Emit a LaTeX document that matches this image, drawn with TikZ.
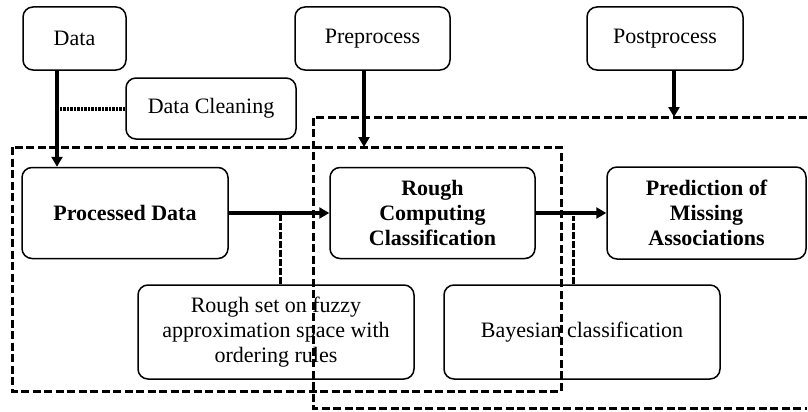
\documentclass[tikz,border=0pt]{standalone}
\usepackage{fontspec}
\setmainfont{Liberation Serif}
\usetikzlibrary{arrows.meta,positioning}

\tikzset{
  box/.style = {draw, line width=1.5pt, rounded corners=10pt, inner sep=0pt,
                align=center, font=\fontsize{22}{25}\selectfont},
  bbox/.style = {box, font=\fontsize{22}{25}\selectfont\bfseries},
  flow/.style = {line width=4pt, -{Triangle[length=10pt,width=11pt]}},
  dotline/.style = {line width=4pt, dash pattern=on 2.5pt off 1pt},
  linkdash/.style = {line width=3pt, dash pattern=on 7pt off 2pt},
  frame/.style = {line width=3pt, dash pattern=on 8pt off 3.5pt}
}

\begin{document}
\begin{tikzpicture}[x=1pt, y=-1pt]
  \useasboundingbox (0,0) rectangle (808,412);

  \node[box, minimum width=103pt, minimum height=63pt] (data) at (74.5,38.5) {Data};
  \node[box, minimum width=155pt, minimum height=63pt] (pre) at (372.5,38.5) {Preprocess};
  \node[box, minimum width=156pt, minimum height=63pt] (post) at (665,38.5) {Postprocess};
  \node[box, minimum width=170pt, minimum height=61pt] (clean) at (211,108.5) {Data Cleaning};

  \node[bbox, minimum width=206pt, minimum height=91pt] (proc) at (125,213) {Processed Data};
  \node[bbox, minimum width=205pt, minimum height=91pt] (rough) at (432.5,213) {Rough\\Computing\\Classification};
  \node[bbox, minimum width=199pt, minimum height=92pt] (pred) at (706.5,213) {Prediction of\\Missing\\Associations};

  \node[box, minimum width=276pt, minimum height=94pt] (fuzzy) at (276,332)
    {Rough set on fuzzy\\approximation space with\\ordering rules};
  \node[box, minimum width=276pt, minimum height=94pt] (bayes) at (582,332) {Bayesian classification};

  \coordinate (lf1) at (12,147);
  \coordinate (lf2) at (561,391);
  \coordinate (rfa) at (807,117);
  \coordinate (rfb) at (313,117);
  \coordinate (rfc) at (313,408);
  \coordinate (rfd) at (807,408);

  \draw[frame] (lf1) rectangle (lf2);
  \draw[frame] (rfa) -- (rfb) -- (rfc) -- (rfd);

  \coordinate (d0) at ([xshift=-17.5pt]data.south);
  \coordinate (p0) at ([xshift=-8.5pt]pre.south);
  \coordinate (q0) at ([xshift=9pt]post.south);

  \draw[flow] (d0) -- (d0 |- proc.north);
  \draw[dotline] (clean.west) -- (clean.west -| d0);
  \draw[flow] (p0) -- (p0 |- lf1);
  \draw[flow] (q0) -- (q0 |- rfa);

  \draw[flow] (proc.east) -- (rough.west);
  \draw[flow] (rough.east) -- (pred.west);

  \draw[linkdash] ([xshift=4pt]fuzzy.north) -- ([xshift=4pt]fuzzy.north |- proc.east);
  \draw[linkdash] ([xshift=-9pt]bayes.north) -- ([xshift=-9pt,yshift=-3pt]bayes.north |- rough.east);
\end{tikzpicture}
\end{document}
